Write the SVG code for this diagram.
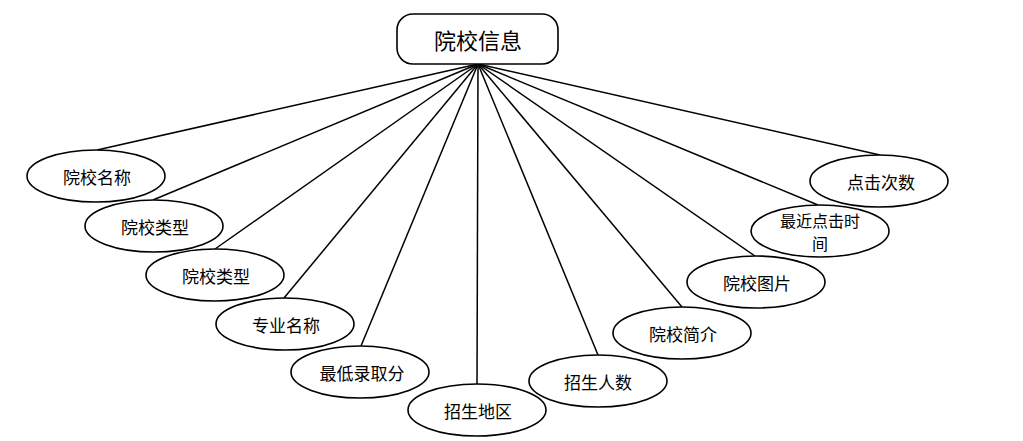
<svg xmlns="http://www.w3.org/2000/svg" width="1023" height="441" viewBox="0 0 1023 441">
<style>
.n{fill:#fff;stroke:#000;stroke-width:1.6}
.t{font-family:"Noto Sans CJK SC","Noto Sans",sans-serif;font-size:17px;fill:#000;text-anchor:middle;dominant-baseline:central}
.c line{stroke:#000;stroke-width:1.5}
</style>
<rect width="1023" height="441" fill="#fff"/>
<g class="c" id="connectors">
<line x1="478" y1="64" x2="97" y2="150"/>
<line x1="478" y1="64" x2="153" y2="200"/>
<line x1="478" y1="64" x2="215" y2="249"/>
<line x1="478" y1="64" x2="284" y2="298"/>
<line x1="478" y1="64" x2="361" y2="346"/>
<line x1="478" y1="64" x2="477" y2="384"/>
<line x1="478" y1="64" x2="598" y2="355"/>
<line x1="478" y1="64" x2="682" y2="307"/>
<line x1="478" y1="64" x2="755" y2="256"/>
<line x1="478" y1="64" x2="818" y2="205"/>
<line x1="478" y1="64" x2="880" y2="155"/>
</g>
<g id="root">
<rect class="n" x="397" y="14" width="161" height="50" rx="16" ry="16"/>
<text class="t" x="478" y="39" style="font-size:22px">院校信息</text>
</g>
<g id="n1"><ellipse class="n" cx="96" cy="176" rx="69" ry="26"/><text class="t" x="97" y="176">院校名称</text></g>
<g id="n2"><ellipse class="n" cx="154" cy="226" rx="69" ry="26"/><text class="t" x="155" y="226">院校类型</text></g>
<g id="n3"><ellipse class="n" cx="215" cy="275" rx="69" ry="26"/><text class="t" x="216" y="275">院校类型</text></g>
<g id="n4"><ellipse class="n" cx="285" cy="324" rx="69" ry="26"/><text class="t" x="286" y="324">专业名称</text></g>
<g id="n5"><ellipse class="n" cx="360" cy="372" rx="69" ry="26"/><text class="t" x="362" y="372">最低录取分</text></g>
<g id="n6"><ellipse class="n" cx="477" cy="410" rx="69" ry="26"/><text class="t" x="478" y="410">招生地区</text></g>
<g id="n7"><ellipse class="n" cx="598" cy="381" rx="69" ry="26"/><text class="t" x="598" y="381">招生人数</text></g>
<g id="n8"><ellipse class="n" cx="682" cy="333" rx="69" ry="26"/><text class="t" x="683" y="333">院校简介</text></g>
<g id="n9"><ellipse class="n" cx="756" cy="282" rx="69" ry="26"/><text class="t" x="757" y="282">院校图片</text></g>
<g id="n10"><ellipse class="n" cx="820" cy="231" rx="69" ry="26"/><text class="t" x="820" y="220" style="font-size:16px">最近点击时</text><text class="t" x="820" y="243" style="font-size:16px">间</text></g>
<g id="n11"><ellipse class="n" cx="879" cy="181" rx="69" ry="26"/><text class="t" x="881" y="181">点击次数</text></g>
</svg>
